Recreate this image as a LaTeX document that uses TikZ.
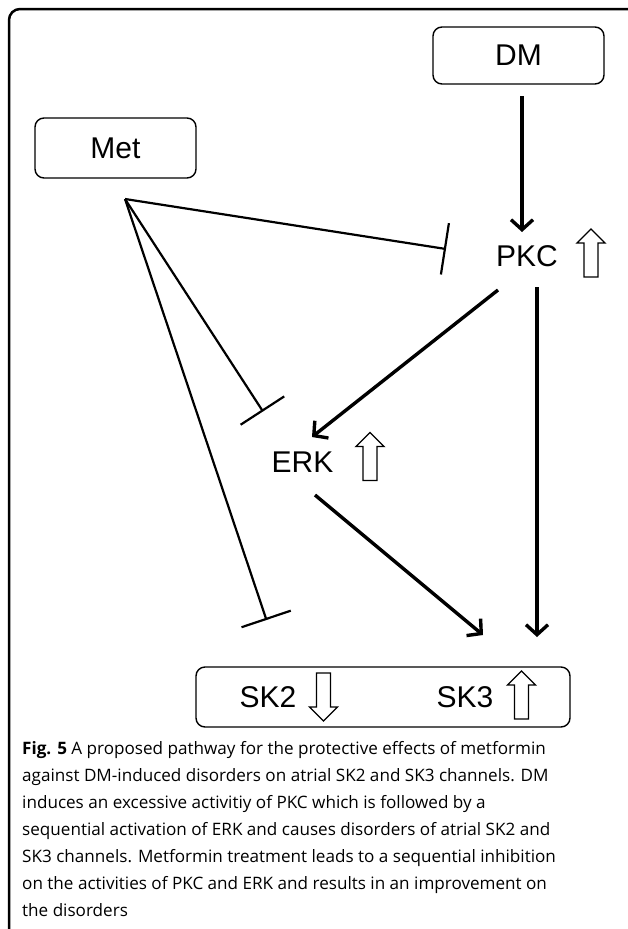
\documentclass[tikz,border=0pt]{standalone}
\usepackage{fontspec}
\setmainfont{Liberation Sans}
\newfontfamily\capfont{Open Sans}
\usetikzlibrary{arrows.meta}
\tikzset{
  box/.style={draw, line width=1.4pt, rounded corners=9pt, inner sep=0pt},
  lbl/.style={font=\fontsize{30}{32}\selectfont, inner sep=0pt},
  act/.style={line width=3.4pt, -{Straight Barb[length=10pt,width=22pt]}},
  inh/.style={line width=2.2pt, -{Bar[width=52pt]}},
  hollow/.style={draw, line width=1.3pt, fill=white, line join=miter},
  uparr/.pic={\draw[hollow] (0,-24) -- (14,-10) -- (7,-10) -- (7,24) -- (-7,24) -- (-7,-10) -- (-14,-10) -- cycle;},
  downarr/.pic={\draw[hollow] (0,24) -- (14,10) -- (7,10) -- (7,-24) -- (-7,-24) -- (-7,10) -- (-14,10) -- cycle;}
}
\begin{document}
\begin{tikzpicture}[x=1pt,y=-1pt]
\useasboundingbox (0,0) rectangle (627,929);
\fill[white] (0,0) rectangle (627,929);
% outer frame (cropped at right and bottom)
\draw[line width=2.5pt, rounded corners=11pt] (632,9) -- (9,9) -- (9,934);

% boxes
\node[box, lbl, minimum width=161pt, minimum height=60pt] (met) at (115.5,148) {Met};
\node[box, lbl, minimum width=171pt, minimum height=57pt] (dm) at (518.5,55.5) {DM};
\node[box, minimum width=374pt, minimum height=60pt] (sk) at (383,697) {};

% labels
\node[lbl] (pkc) at (527,256) {PKC};
\node[lbl] (erk) at (302.5,462.5) {ERK};
\node[lbl] (sk2) at (268,697) {SK2};
\node[lbl] (sk3) at (465,697) {SK3};

% hollow up/down arrows
\pic at (591,253) {uparr};
\pic at (370,456.5) {uparr};
\pic at (521.5,695) {uparr};
\pic at (323.5,697) {downarr};

% connector endpoints
\coordinate (metsrc) at (125,199);
\coordinate (dmout) at (522,96);
\coordinate (pkcin) at (522,232);
\coordinate (pkcinh) at (446,249);
\coordinate (pkcout1) at (498,290);
\coordinate (pkcout2) at (537,287);
\coordinate (erkin) at (312,437);
\coordinate (erkinh) at (263,411.5);
\coordinate (erkout) at (315,495);
\coordinate (skin1) at (483,635);
\coordinate (skin2) at (537,637);
\coordinate (skinh) at (266.5,620);

% activation arrows
\draw[act] (dmout) -- (pkcin);
\draw[act] (pkcout1) -- (erkin);
\draw[act] (pkcout2) -- (skin2);
\draw[act] (erkout) -- (skin1);

% inhibition
\draw[inh] (metsrc) -- (pkcinh);
\draw[inh] (metsrc) -- (erkinh);
\draw[inh] (metsrc) -- (skinh);

% caption
\node[anchor=north west, align=left, inner sep=0pt,
      font=\capfont\fontsize{17.1}{27}\selectfont] (cap) at (22,741) {%
{\bfseries Fig. 5} A proposed pathway for the protective effects of metformin\\
against DM-induced disorders on atrial SK2 and SK3 channels. DM\\
induces an excessive activitiy of PKC which is followed by a\\
sequential activation of ERK and causes disorders of atrial SK2 and\\
SK3 channels. Metformin treatment leads to a sequential inhibition\\
on the activities of PKC and ERK and results in an improvement on\\
the disorders};
\end{tikzpicture}
\end{document}
